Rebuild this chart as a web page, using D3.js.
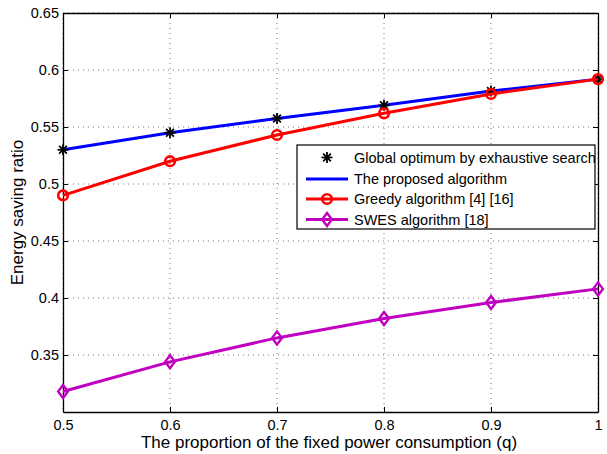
<!DOCTYPE html>
<html>
<head>
<meta charset="utf-8">
<script src="https://cdn.jsdelivr.net/npm/d3@7"></script>
<style>
  html, body { margin: 0; padding: 0; background: #fff; }
  svg text { font-family: "Liberation Sans", Arial, Helvetica, sans-serif; fill: #000; }
</style>
</head>
<body>
<svg id="chart" width="607" height="454"></svg>
<script>
// Proportion of fixed power consumption (q)
const qValues = [0.5, 0.6, 0.7, 0.8, 0.9, 1.0];
// Energy saving ratio per method
const optimumValues  = [0.530, 0.545, 0.5575, 0.569, 0.5815, 0.592];
const proposedValues = [0.530, 0.545, 0.5575, 0.569, 0.5815, 0.592];
const greedyValues   = [0.490, 0.520, 0.543, 0.562, 0.579, 0.592];
const swesValues     = [0.318, 0.344, 0.365, 0.382, 0.396, 0.408];

const xTicks = [0.5, 0.6, 0.7, 0.8, 0.9, 1];
const yTicks = [0.35, 0.4, 0.45, 0.5, 0.55, 0.6, 0.65];
const xTickLabels = ["0.5", "0.6", "0.7", "0.8", "0.9", "1"];
const yTickLabels = ["0.35", "0.4", "0.45", "0.5", "0.55", "0.6", "0.65"];

const legendLabels = [
  "Global optimum by exhaustive search",
  "The proposed algorithm",
  "Greedy algorithm [4] [16]",
  "SWES algorithm [18]"
];

const W = 607, H = 454;
const margin = { left: 63, right: 9, top: 13, bottom: 42 };
const pw = W - margin.left - margin.right;
const ph = H - margin.top - margin.bottom;

const svg = d3.select("#chart");
const g = svg.append("g").attr("transform", `translate(${margin.left},${margin.top})`);

const x = d3.scaleLinear().domain([0.5, 1]).range([0, pw]);
const y = d3.scaleLinear().domain([0.3, 0.65]).range([ph, 0]);

// dotted grid
const grid = g.append("g");
xTicks.forEach(t => {
  grid.append("line").attr("x1", x(t)).attr("x2", x(t)).attr("y1", 0).attr("y2", ph)
    .attr("stroke", "#555").attr("stroke-width", 0.8).attr("stroke-dasharray", "1,4");
});
yTicks.forEach(t => {
  grid.append("line").attr("x1", 0).attr("x2", pw).attr("y1", y(t)).attr("y2", y(t))
    .attr("stroke", "#555").attr("stroke-width", 0.8).attr("stroke-dasharray", "1,4");
});

// axes with inward ticks
const fmtX = (d) => xTickLabels[xTicks.indexOf(d)];
const fmtY = (d) => yTickLabels[yTicks.findIndex(v => Math.abs(v - d) < 1e-9)];

const axB = g.append("g").attr("transform", `translate(0,${ph})`)
  .call(d3.axisBottom(x).tickValues(xTicks).tickFormat(fmtX).tickSizeInner(-5).tickSizeOuter(0).tickPadding(8));
const axL = g.append("g")
  .call(d3.axisLeft(y).tickValues(yTicks).tickFormat(fmtY).tickSizeInner(-5).tickSizeOuter(0).tickPadding(4));
const axT = g.append("g")
  .call(d3.axisTop(x).tickValues(xTicks).tickFormat("").tickSizeInner(-5).tickSizeOuter(0));
const axR = g.append("g").attr("transform", `translate(${pw},0)`)
  .call(d3.axisRight(y).tickValues(yTicks).tickFormat("").tickSizeInner(-5).tickSizeOuter(0));

[axB, axL, axT, axR].forEach(a => {
  a.select(".domain").attr("stroke", "#000").attr("stroke-width", 1.3);
  a.selectAll(".tick line").attr("stroke", "#000").attr("stroke-width", 1);
  a.selectAll("text").attr("font-size", 14.5).attr("font-family", "Liberation Sans, Arial, sans-serif");
});

// axis titles
svg.append("text").attr("x", 329).attr("y", 448)
  .attr("text-anchor", "middle").attr("font-size", 17)
  .text("The proportion of the fixed power consumption (q)");
svg.append("text").attr("transform", `translate(23,${margin.top + ph / 2}) rotate(-90)`)
  .attr("text-anchor", "middle").attr("font-size", 17)
  .text("Energy saving ratio");

const line = d3.line().x((d, i) => x(qValues[i])).y(d => y(d));

// marker drawers
function star(sel, cx, cy, r) {
  const s = sel.append("g").attr("transform", `translate(${cx},${cy})`);
  [0, 45, 90, 135].forEach(a => {
    const rad = a * Math.PI / 180;
    s.append("line")
      .attr("x1", -r * Math.cos(rad)).attr("y1", -r * Math.sin(rad))
      .attr("x2", r * Math.cos(rad)).attr("y2", r * Math.sin(rad))
      .attr("stroke", "#000").attr("stroke-width", 1.8);
  });
}
function circle(sel, cx, cy, color) {
  sel.append("circle").attr("cx", cx).attr("cy", cy).attr("r", 4.8)
    .attr("fill", "none").attr("stroke", color).attr("stroke-width", 2.6);
}
function diamond(sel, cx, cy, color) {
  const r = 6.5;
  sel.append("path").attr("d", `M${cx},${cy - r}L${cx + r * 0.75},${cy}L${cx},${cy + r}L${cx - r * 0.75},${cy}Z`)
    .attr("fill", "none").attr("stroke", color).attr("stroke-width", 2.4);
}

const plot = g.append("g");

// proposed algorithm (blue line)
plot.append("path").datum(proposedValues).attr("d", line)
  .attr("fill", "none").attr("stroke", "#0000ff").attr("stroke-width", 3);
// exhaustive search optimum (stars)
optimumValues.forEach((v, i) => star(plot, x(qValues[i]), y(v), 5.5));
// greedy algorithm
plot.append("path").datum(greedyValues).attr("d", line)
  .attr("fill", "none").attr("stroke", "#ff0000").attr("stroke-width", 3);
greedyValues.forEach((v, i) => circle(plot, x(qValues[i]), y(v), "#ff0000"));
// SWES algorithm
plot.append("path").datum(swesValues).attr("d", line)
  .attr("fill", "none").attr("stroke", "#c000c0").attr("stroke-width", 3);
swesValues.forEach((v, i) => diamond(plot, x(qValues[i]), y(v), "#c000c0"));

// legend
const lg = svg.append("g").attr("transform", "translate(297,145)");
lg.append("rect").attr("x", 0).attr("y", 0).attr("width", 298).attr("height", 84)
  .attr("fill", "#fff").attr("stroke", "#000").attr("stroke-width", 1.2);
const rowY = [12.5, 34, 54, 74.5];
const lx1 = 9, lx2 = 51, lmid = 30;
star(lg, lmid, rowY[0], 5.5);
lg.append("line").attr("x1", lx1).attr("x2", lx2).attr("y1", rowY[1]).attr("y2", rowY[1])
  .attr("stroke", "#0000ff").attr("stroke-width", 3);
lg.append("line").attr("x1", lx1).attr("x2", lx2).attr("y1", rowY[2]).attr("y2", rowY[2])
  .attr("stroke", "#ff0000").attr("stroke-width", 3);
circle(lg, lmid, rowY[2], "#ff0000");
lg.append("line").attr("x1", lx1).attr("x2", lx2).attr("y1", rowY[3]).attr("y2", rowY[3])
  .attr("stroke", "#c000c0").attr("stroke-width", 3);
diamond(lg, lmid, rowY[3], "#c000c0");
legendLabels.forEach((t, i) => {
  lg.append("text").attr("x", 57).attr("y", rowY[i]).attr("dy", "0.35em")
    .attr("font-size", 14.5).text(t);
});
</script>
</body>
</html>
